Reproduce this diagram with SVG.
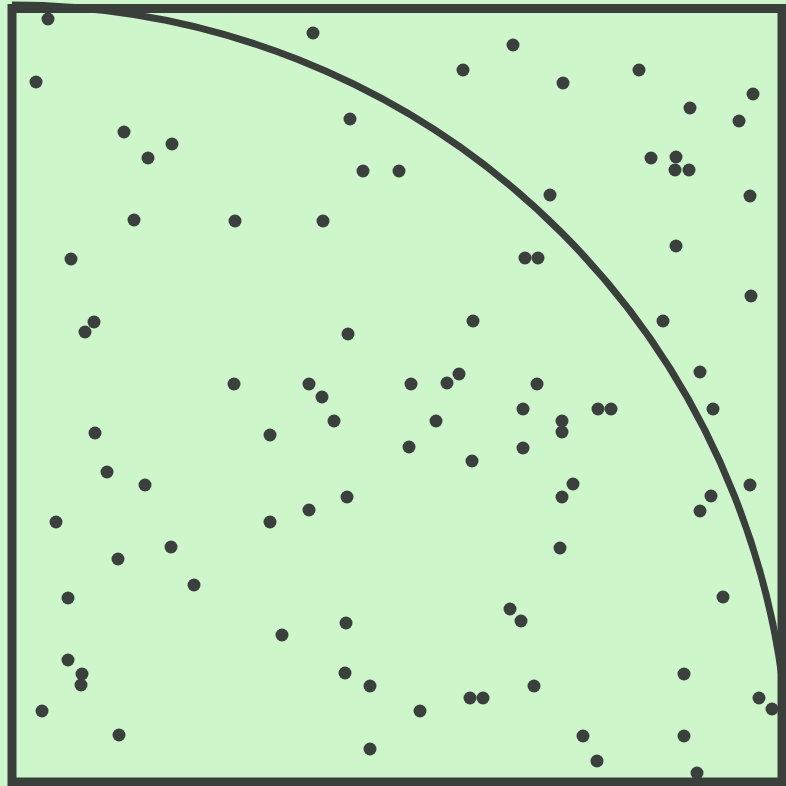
<svg xmlns="http://www.w3.org/2000/svg" width="786" height="786" viewBox="0 0 786 786">
<style>
.frame{fill:none;stroke:#3a3f3c;stroke-width:9}
.arc{fill:none;stroke:#3a3f3c;stroke-width:7}
.dots circle{fill:#3b403e;r:6.5}
</style>
<rect x="0" y="0" width="786" height="786" fill="#cdf6ca"/>
<g id="arc"><path class="arc" d="M12,5 A777,777 0 0 1 789,782"/></g>
<g id="frame"><rect class="frame" x="12" y="8.5" width="770" height="773.5"/></g>
<g id="points" class="dots">
<circle cx="48" cy="19" r="6.5"/><circle cx="36" cy="82" r="6.5"/><circle cx="124" cy="132" r="6.5"/><circle cx="172" cy="144" r="6.5"/><circle cx="148" cy="158" r="6.5"/>
<circle cx="134" cy="220" r="6.5"/><circle cx="71" cy="259" r="6.5"/><circle cx="94" cy="322" r="6.5"/><circle cx="85" cy="332" r="6.5"/>
<circle cx="313" cy="33" r="6.5"/><circle cx="513" cy="45" r="6.5"/><circle cx="463" cy="70" r="6.5"/><circle cx="563" cy="83" r="6.5"/><circle cx="350" cy="119" r="6.5"/>
<circle cx="363" cy="171" r="6.5"/><circle cx="399" cy="171" r="6.5"/><circle cx="550" cy="195" r="6.5"/><circle cx="235" cy="221" r="6.5"/><circle cx="323" cy="221" r="6.5"/>
<circle cx="525" cy="258" r="6.5"/><circle cx="538" cy="258" r="6.5"/>
<circle cx="639" cy="70" r="6.5"/><circle cx="690" cy="108" r="6.5"/><circle cx="739" cy="121" r="6.5"/><circle cx="753" cy="94" r="6.5"/><circle cx="651" cy="158" r="6.5"/>
<circle cx="676" cy="157" r="6.5"/><circle cx="675" cy="170" r="6.5"/><circle cx="689" cy="170" r="6.5"/><circle cx="750" cy="196" r="6.5"/><circle cx="676" cy="246" r="6.5"/><circle cx="751" cy="296" r="6.5"/>
<circle cx="663" cy="321" r="6.5"/><circle cx="700" cy="372" r="6.5"/><circle cx="713" cy="409" r="6.5"/>
<circle cx="473" cy="321" r="6.5"/><circle cx="348" cy="334" r="6.5"/><circle cx="234" cy="384" r="6.5"/><circle cx="309" cy="384" r="6.5"/><circle cx="322" cy="397" r="6.5"/>
<circle cx="411" cy="384" r="6.5"/><circle cx="447" cy="383" r="6.5"/><circle cx="459" cy="374" r="6.5"/><circle cx="537" cy="384" r="6.5"/><circle cx="523" cy="409" r="6.5"/>
<circle cx="598" cy="409" r="6.5"/><circle cx="611" cy="409" r="6.5"/><circle cx="334" cy="421" r="6.5"/><circle cx="436" cy="421" r="6.5"/><circle cx="562" cy="421" r="6.5"/>
<circle cx="562" cy="432" r="6.5"/><circle cx="270" cy="435" r="6.5"/><circle cx="409" cy="447" r="6.5"/><circle cx="523" cy="448" r="6.5"/><circle cx="472" cy="461" r="6.5"/>
<circle cx="573" cy="484" r="6.5"/><circle cx="562" cy="497" r="6.5"/><circle cx="347" cy="497" r="6.5"/><circle cx="309" cy="510" r="6.5"/><circle cx="270" cy="522" r="6.5"/>
<circle cx="95" cy="433" r="6.5"/><circle cx="107" cy="472" r="6.5"/><circle cx="145" cy="485" r="6.5"/><circle cx="56" cy="522" r="6.5"/><circle cx="171" cy="547" r="6.5"/>
<circle cx="118" cy="559" r="6.5"/><circle cx="194" cy="585" r="6.5"/><circle cx="68" cy="598" r="6.5"/>
<circle cx="560" cy="548" r="6.5"/><circle cx="346" cy="623" r="6.5"/><circle cx="282" cy="635" r="6.5"/><circle cx="510" cy="609" r="6.5"/><circle cx="521" cy="621" r="6.5"/>
<circle cx="345" cy="673" r="6.5"/><circle cx="370" cy="686" r="6.5"/><circle cx="534" cy="686" r="6.5"/><circle cx="470" cy="698" r="6.5"/><circle cx="483" cy="698" r="6.5"/>
<circle cx="420" cy="711" r="6.5"/><circle cx="370" cy="749" r="6.5"/><circle cx="583" cy="736" r="6.5"/><circle cx="597" cy="761" r="6.5"/>
<circle cx="750" cy="485" r="6.5"/><circle cx="711" cy="496" r="6.5"/><circle cx="700" cy="511" r="6.5"/><circle cx="723" cy="597" r="6.5"/>
<circle cx="68" cy="660" r="6.5"/><circle cx="82" cy="674" r="6.5"/><circle cx="81" cy="685" r="6.5"/><circle cx="42" cy="711" r="6.5"/><circle cx="119" cy="735" r="6.5"/>
<circle cx="684" cy="674" r="6.5"/><circle cx="759" cy="698" r="6.5"/><circle cx="772" cy="709" r="6.5"/><circle cx="684" cy="736" r="6.5"/><circle cx="697" cy="773" r="6.5"/>
</g>
</svg>
